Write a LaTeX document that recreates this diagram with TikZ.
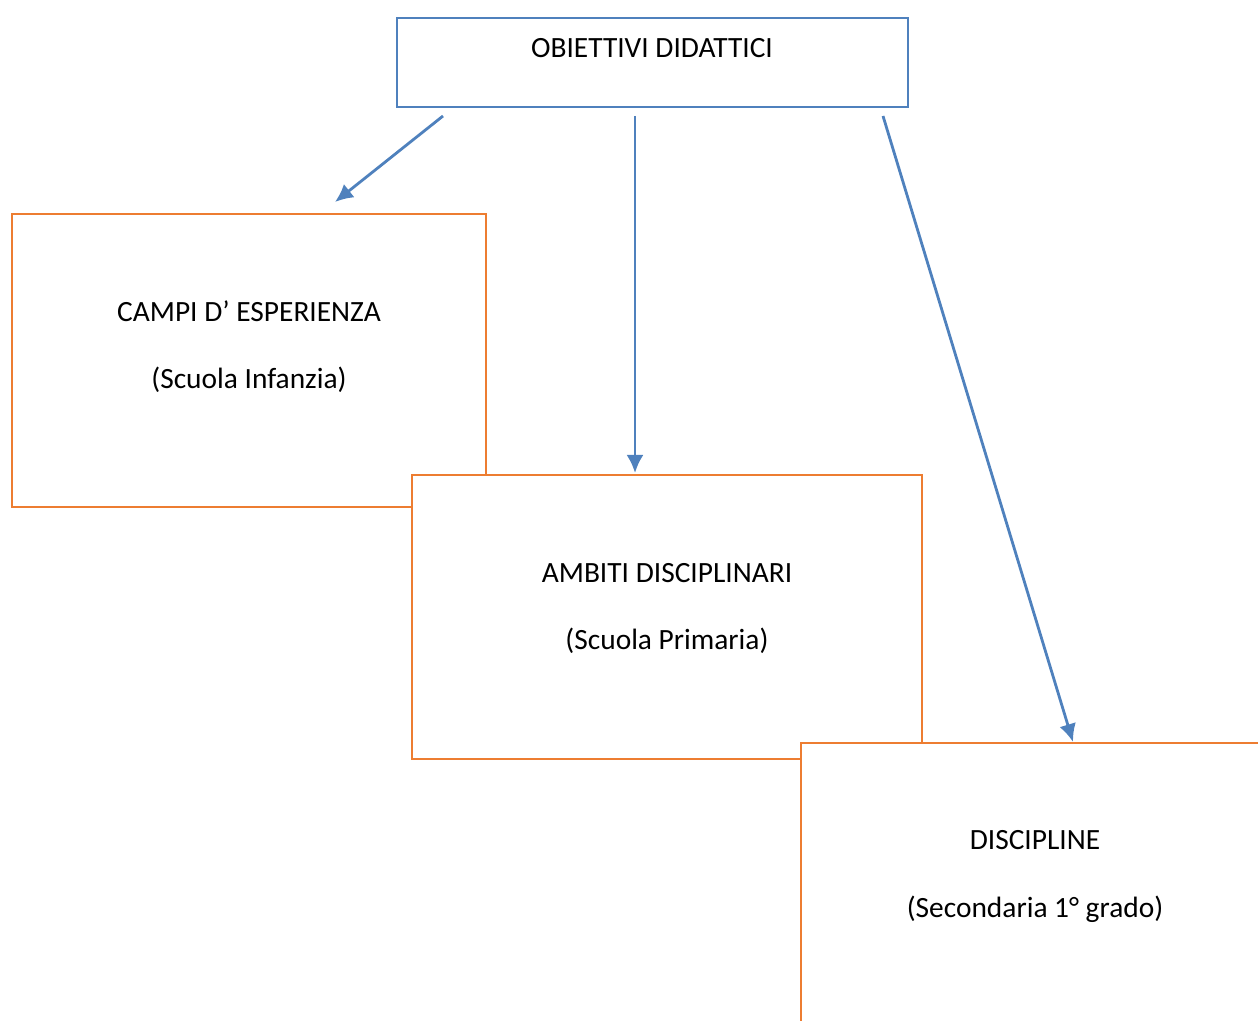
\documentclass[tikz,border=0pt]{standalone}
\usepackage{fontspec}
\setmainfont{Carlito}
\usetikzlibrary{arrows.meta}
\definecolor{linkblue}{HTML}{4F81BD}
\definecolor{schoolorange}{HTML}{ED7D31}
\begin{document}
\begin{tikzpicture}[x=0.5pt,y=-0.5pt,
		every node/.style={font=\fontsize{14.7}{17}\selectfont},
		bluebox/.style={draw=linkblue,line width=1pt,fill=white,inner sep=0pt},
		orangebox/.style={draw=schoolorange,line width=1.1pt,fill=white,inner sep=0pt},
		link/.style={draw=linkblue,line width=1.4pt,-{Latex[length=9pt,width=8.5pt]}}]
			\useasboundingbox (0,0) rectangle (1258,1021);
			\clip (0,0) rectangle (1258,1021);
		
			% top box
			\node[bluebox,minimum width=255.5pt,minimum height=44.5pt] (obiettivi) at (652.5,62.5) {};
			\node (obtxt) at (652,48.5) {OBIETTIVI DIDATTICI};
		
			% the three school levels (each drawn over the one before)
			\node[orangebox,minimum width=237pt,minimum height=146.5pt] (campi) at (249,360.5) {};
			\node (campi1) at (249,311) {CAMPI D’ ESPERIENZA};
			\node (campi2) at (249,380) {(Scuola Infanzia)};
			
			\node[orangebox,minimum width=255pt,minimum height=142pt] (ambiti) at (667,617) {};
			\node (ambiti1) at (667,573) {AMBITI DISCIPLINARI};
			\node (ambiti2) at (667,641) {(Scuola Primaria)};
			
			\node[orangebox,minimum width=234pt,minimum height=145pt] (discipline) at (1035,888) {};
			\node (disc1) at (1035,840) {DISCIPLINE};
			\node (disc2) at (1035,909) {(Secondaria 1° grado)};
		
			% arrows
			\coordinate (s1) at (443,116);
			\coordinate (s2) at (635,116);
			\coordinate (s3) at (883,116);
			\coordinate (e1) at (335,202);
			\coordinate (e2) at (635,473);
			\coordinate (e3) at (1073,742);
			\path[link] (s1) -- (e1);
			\path[link] (s2) -- (e2);
			\path[link] (s3) -- (e3);
		\end{tikzpicture}
\end{document}
